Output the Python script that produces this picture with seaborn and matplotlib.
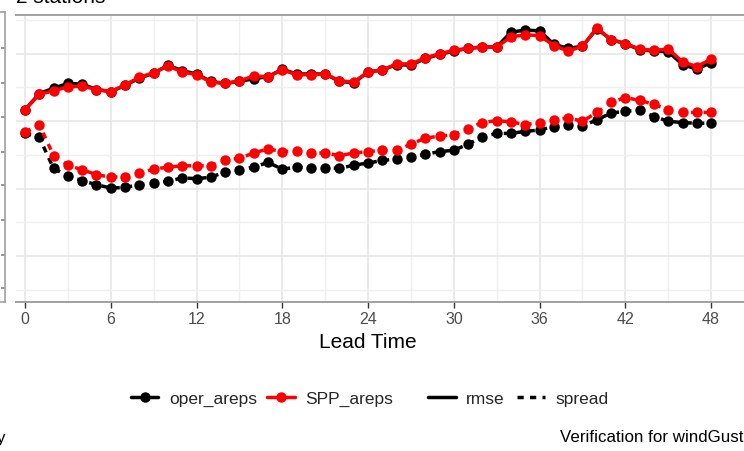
import matplotlib
matplotlib.use("Agg")
import matplotlib.pyplot as plt
import pandas as pd
import seaborn as sns
from matplotlib.lines import Line2D

# Verification scores per lead time (hours) for the two ensembles
lead_time = list(range(49))

oper_rmse = [3.17, 3.41, 3.49, 3.56, 3.55, 3.47, 3.44, 3.53, 3.64, 3.71,
             3.83, 3.75, 3.70, 3.59, 3.56, 3.59, 3.63, 3.66, 3.77, 3.70,
             3.70, 3.70, 3.59, 3.57, 3.73, 3.76, 3.84, 3.83, 3.93, 3.99,
             4.04, 4.08, 4.10, 4.10, 4.32, 4.35, 4.34, 4.14, 4.08, 4.11,
             4.37, 4.21, 4.15, 4.06, 4.04, 4.03, 3.84, 3.77, 3.87]
spp_rmse = [3.17, 3.40, 3.45, 3.51, 3.52, 3.47, 3.44, 3.54, 3.65, 3.72,
            3.82, 3.73, 3.69, 3.58, 3.56, 3.60, 3.67, 3.66, 3.76, 3.69,
            3.69, 3.70, 3.60, 3.58, 3.73, 3.76, 3.85, 3.85, 3.94, 4.00,
            4.05, 4.08, 4.10, 4.10, 4.25, 4.28, 4.27, 4.12, 4.04, 4.11,
            4.38, 4.21, 4.15, 4.07, 4.05, 4.07, 3.88, 3.81, 3.92]
oper_spread = [2.82, 2.76, 2.30, 2.19, 2.12, 2.06, 2.01, 2.02, 2.06, 2.09,
               2.11, 2.16, 2.15, 2.17, 2.25, 2.28, 2.32, 2.39, 2.29, 2.32,
               2.31, 2.31, 2.30, 2.35, 2.38, 2.42, 2.44, 2.47, 2.51, 2.55,
               2.57, 2.66, 2.77, 2.82, 2.82, 2.85, 2.87, 2.92, 2.94, 2.93,
               3.02, 3.12, 3.15, 3.16, 3.07, 3.00, 2.98, 2.97, 2.97]
spp_spread = [2.84, 2.95, 2.49, 2.35, 2.28, 2.21, 2.17, 2.18, 2.23, 2.29,
              2.32, 2.34, 2.34, 2.34, 2.43, 2.45, 2.53, 2.59, 2.55, 2.56,
              2.53, 2.53, 2.49, 2.53, 2.55, 2.57, 2.57, 2.66, 2.75, 2.78,
              2.80, 2.89, 2.98, 3.01, 2.99, 2.95, 2.98, 3.02, 3.05, 3.00,
              3.13, 3.28, 3.35, 3.31, 3.25, 3.17, 3.13, 3.13, 3.13]

models = ["oper_areps", "SPP_areps"]
scores = ["rmse", "spread"]
model_colours = {"oper_areps": "#000000", "SPP_areps": "#FF0000"}
x_ticks = [0, 6, 12, 18, 24, 30, 36, 42, 48]

series = {
    ("oper_areps", "rmse"): oper_rmse,
    ("oper_areps", "spread"): oper_spread,
    ("SPP_areps", "rmse"): spp_rmse,
    ("SPP_areps", "spread"): spp_spread,
}
df = pd.concat(
    [pd.DataFrame({"lead_time": lead_time, "value": vals, "model": m, "score": s})
     for (m, s), vals in series.items()],
    ignore_index=True,
)

sns.set_theme(style="white")
plt.rcParams["font.family"] = ["Liberation Sans", "DejaVu Sans"]

LW = 2.5
MS = 7.5
DASH = (1.8, 1.8)

fig = plt.figure(figsize=(7.44, 4.51), dpi=100)
ax = fig.add_axes([16 / 744, 149 / 451, 728 / 744, 287 / 451])

sns.lineplot(
    data=df, x="lead_time", y="value",
    hue="model", hue_order=models, palette=model_colours,
    style="score", style_order=scores,
    dashes={"rmse": "", "spread": DASH},
    markers={"rmse": "o", "spread": "o"},
    markersize=MS, markeredgewidth=0, linewidth=LW,
    legend=False, ax=ax,
)

ax.set_xlim(-0.63, 50.3)
ax.set_ylim(0.322, 4.574)
ax.set_xticks(x_ticks)
ax.set_xticks([3, 9, 15, 21, 27, 33, 39, 45], minor=True)
ax.set_yticks([1, 2, 3, 4])
ax.set_yticks([0.5, 1.5, 2.5, 3.5, 4.5], minor=True)
ax.grid(which="major", color="#E6E6E6", linewidth=1.2)
ax.grid(which="minor", color="#EFEFEF", linewidth=1.0)
ax.set_axisbelow(True)

for side in ("left", "right"):
    ax.spines[side].set_visible(False)
for side in ("top", "bottom"):
    ax.spines[side].set_color("#A0A0A0")
    ax.spines[side].set_linewidth(1.4)

ax.tick_params(axis="x", which="major", bottom=True, direction="out", length=4,
               width=1, color="#333333", labelcolor="#4D4D4D", labelsize=11.5, pad=3)
ax.tick_params(axis="x", which="minor", bottom=False)
ax.tick_params(axis="y", which="both", left=False, labelleft=False)
ax.set_xlabel("Lead Time", fontsize=15, color="black")
ax.xaxis.set_label_coords((368 - 16) / 728, -(342 - 302) / 287, transform=ax.transAxes)
ax.xaxis.label.set_va("center")
ax.set_ylabel("")

# Neighbouring panel frame at the left edge
side_ax = fig.add_axes([-12 / 744, 149 / 451, 17 / 744, 290 / 451])
side_ax.set_xlim(0, 1)
side_ax.set_ylim(0, 290)
side_ax.set_xticks([])
side_ax.set_yticks([14, 47, 82, 117, 150, 185, 219, 254])
side_ax.tick_params(axis="y", left=False, right=True, direction="in", length=3,
                    color="#888888", labelleft=False, labelright=False)
side_ax.set_facecolor("white")
for sp in side_ax.spines.values():
    sp.set_color("#A0A0A0")
    sp.set_linewidth(1.2)

# Legends: models and scores
model_handles = [Line2D([0], [0], color=model_colours[m], lw=LW, marker="o",
                        markersize=MS, markeredgewidth=0) for m in models]
fig.legend(model_handles, models, loc="center", bbox_to_anchor=(262 / 744, 1 - 399 / 451),
           ncol=2, frameon=False, fontsize=12.5, handlelength=1.6, handletextpad=0.6,
           columnspacing=0.6)
score_handles = [Line2D([0], [0], color="black", lw=LW, linestyle="-"),
                 Line2D([0], [0], color="black", lw=LW, dashes=DASH)]
fig.legend(score_handles, scores, loc="center", bbox_to_anchor=(518 / 744, 1 - 399 / 451),
           ncol=2, frameon=False, fontsize=12.5, handlelength=1.6, handletextpad=0.6,
           columnspacing=0.7)

fig.text(16 / 744, 1 - 3 / 451, "2 stations", fontsize=15, color="black", va="baseline")
fig.text(743 / 744, 1 - 438 / 451, "Verification for windGust", fontsize=12.2,
         color="black", ha="right", va="center")
fig.text(5 / 744, 1 - 438 / 451, "y", fontsize=12.2, color="black", ha="right", va="center")

fig.savefig("out.png", dpi=100, facecolor="white")
